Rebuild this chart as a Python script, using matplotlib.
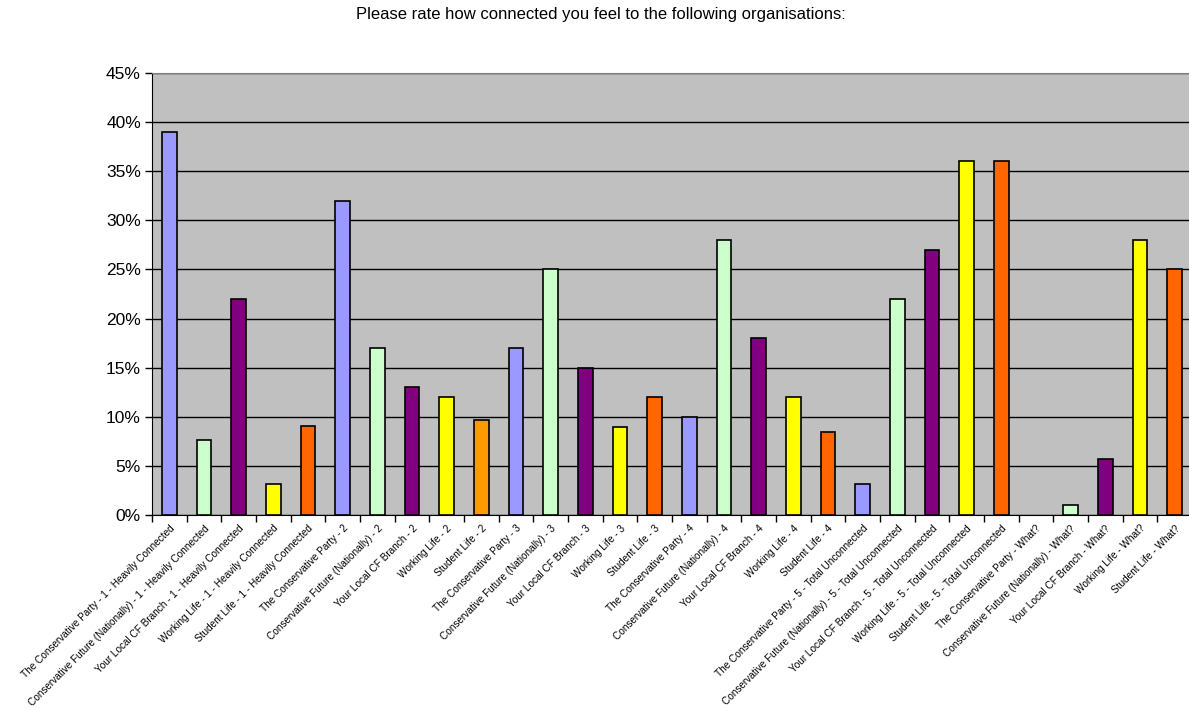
import numpy as np
import matplotlib
matplotlib.use('Agg')
import matplotlib.pyplot as plt
from matplotlib.ticker import PercentFormatter, FixedLocator, NullFormatter

matplotlib.rcParams['font.family'] = ['Liberation Sans', 'DejaVu Sans']

orgs = ['The Conservative Party', 'Conservative Future (Nationally)', 'Your Local CF Branch',
        'Working Life', 'Student Life']
levels = ['1 - Heavily Connected', '2', '3', '4', '5 - Total Unconnected', 'What?']

# share of respondents (orgs repeat inside each level)
values = [0.39, 0.076, 0.22, 0.032, 0.091,
          0.32, 0.17, 0.13, 0.12, 0.097,
          0.17, 0.25, 0.15, 0.09, 0.12,
          0.10, 0.28, 0.18, 0.12, 0.084,
          0.032, 0.22, 0.27, 0.36, 0.36,
          0.0, 0.01, 0.057, 0.28, 0.25]

labels = [o + ' - ' + l for l in levels for o in orgs]

org_colors = ['#9999FF', '#CCFFCC', '#800080', '#FFFF00', '#FF6600']
colors = [org_colors[i % 5] for i in range(len(values))]
colors[9] = '#FF9900'  # Student Life - 2 is a lighter orange in the original

fig = plt.figure(figsize=(11.89, 7.10), dpi=100)
ax = fig.add_axes([152 / 1189, 1 - 515 / 710, 1040 / 1189, (515 - 73) / 710])
ax.set_facecolor('#C0C0C0')

x = np.arange(len(values))
vals = np.array(values)
# empty categories get no bar outline
ax.bar(x, vals, width=0.42, color=colors, edgecolor=['black' if v > 0 else 'none' for v in vals],
       linewidth=1.2, zorder=3)

ax.set_xlim(-0.5, len(values) - 0.5)
ax.set_ylim(0, 0.45)
ax.set_yticks(np.arange(0, 0.451, 0.05))
ax.yaxis.set_major_formatter(PercentFormatter(1.0, decimals=0))
ax.grid(axis='y', color='black', linewidth=1, zorder=1)
ax.tick_params(axis='y', labelsize=12.5, length=5, width=1, direction='out', pad=3)

# ticks between categories, labels under the bars
ax.xaxis.set_major_locator(FixedLocator(x - 0.5))
ax.xaxis.set_major_formatter(NullFormatter())
ax.xaxis.set_minor_locator(FixedLocator(x))
ax.set_xticklabels(labels, minor=True, rotation=45, ha='right', rotation_mode='anchor', fontsize=7.2)
ax.tick_params(axis='x', which='major', length=5, width=1, direction='out')
ax.tick_params(axis='x', which='minor', length=0, pad=6)

ax.spines['top'].set_color('#808080')
ax.spines['right'].set_visible(False)
ax.spines['left'].set_color('black')
ax.spines['bottom'].set_color('black')

fig.text(0.505, 1 - 15 / 710, 'Please rate how connected you feel to the following organisations:',
         ha='center', va='center', fontsize=12)

fig.savefig('out.png', dpi=100)
